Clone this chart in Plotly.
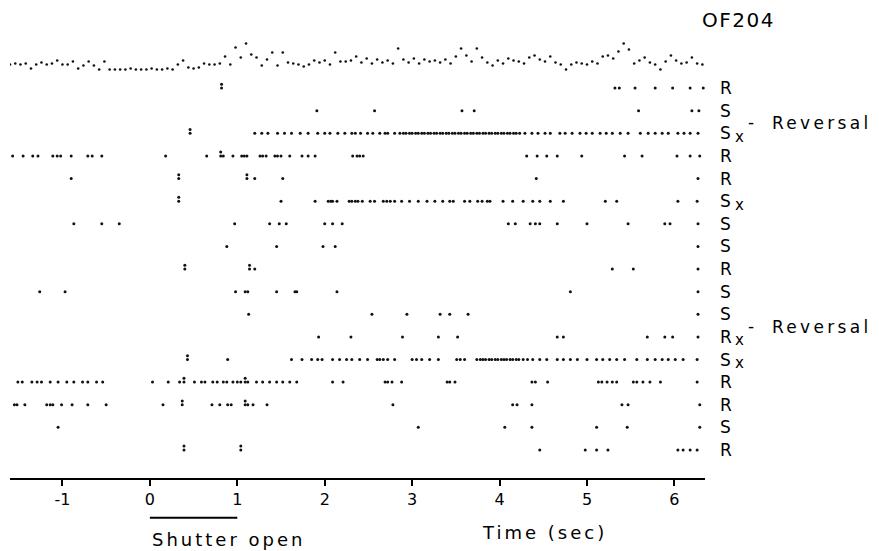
import plotly.graph_objects as go

# ---- data: spike times (s) per trial row, top to bottom ----
row_labels = ["R", "S", "Sx", "R", "R", "Sx", "S", "S", "R", "S", "S", "Rx", "Sx", "R", "R", "S", "R"]
reversal_rows = [2, 11]

spikes = [
    [0.82, 5.32, 5.37, 5.55, 5.78, 5.98, 6.18, 6.33],
    [1.91, 2.57, 3.57, 3.71, 5.59, 6.20, 6.28],
    [0.46, 1.20, 1.28, 1.35, 1.46, 1.54, 1.62, 1.72, 1.81, 1.92, 2.00, 2.06, 2.15, 2.23, 2.31, 2.35,
     2.41, 2.49, 2.55, 2.63, 2.69, 2.72, 2.80, 2.86, 2.90, 2.93, 2.97, 3.00, 3.04, 3.07, 3.11, 3.14,
     3.18, 3.21, 3.25, 3.28, 3.32, 3.35, 3.39, 3.42, 3.46, 3.49, 3.53, 3.56, 3.60, 3.63, 3.67, 3.70,
     3.74, 3.77, 3.81, 3.84, 3.88, 3.91, 3.95, 3.98, 4.02, 4.05, 4.09, 4.12, 4.16, 4.19, 4.23, 4.29,
     4.37, 4.44, 4.52, 4.58, 4.69, 4.75, 4.83, 4.92, 4.99, 5.06, 5.15, 5.22, 5.29, 5.38, 5.47, 5.61,
     5.70, 5.78, 5.86, 5.93, 6.04, 6.11, 6.18, 6.27],
    [-1.57, -1.45, -1.34, -1.28, -1.11, -1.06, -1.02, -0.90, -0.71, -0.66, -0.55, 0.18, 0.65, 0.81,
     0.84, 0.95, 1.05, 1.08, 1.11, 1.26, 1.29, 1.33, 1.43, 1.46, 1.50, 1.60, 1.74, 1.81, 1.89, 2.32,
     2.37, 2.40, 2.44, 4.31, 4.43, 4.54, 4.66, 4.94, 5.43, 5.63, 6.03, 6.18, 6.29],
    [-0.90, 0.33, 1.11, 1.20, 1.52, 4.42, 6.27],
    [0.33, 1.50, 1.89, 2.04, 2.07, 2.09, 2.14, 2.28, 2.31, 2.35, 2.38, 2.43, 2.52, 2.57, 2.67, 2.71,
     2.75, 2.80, 2.88, 2.97, 3.07, 3.17, 3.26, 3.35, 3.43, 3.47, 3.60, 3.66, 3.75, 3.80, 3.86, 3.89,
     4.04, 4.15, 4.27, 4.38, 4.46, 4.58, 4.73, 5.21, 5.34, 6.04, 6.26],
    [-0.87, -0.55, -0.35, 0.97, 1.37, 1.48, 1.56, 2.00, 2.09, 2.20, 4.10, 4.18, 4.35, 4.41, 4.46,
     4.66, 5.00, 5.47, 5.89, 5.95, 6.27],
    [0.88, 1.45, 1.98, 2.12, 6.27],
    [0.40, 1.14, 1.20, 5.29, 5.53, 6.27],
    [-1.26, -0.97, 0.98, 1.09, 1.12, 1.45, 1.66, 1.68, 2.14, 4.81, 6.27],
    [1.13, 2.54, 2.94, 3.32, 3.43, 3.64, 6.27],
    [1.93, 2.30, 2.89, 3.30, 3.52, 4.66, 4.73, 5.69, 5.89, 5.98, 6.27],
    [0.43, 0.89, 1.62, 1.74, 1.85, 1.92, 1.97, 2.09, 2.17, 2.25, 2.31, 2.40, 2.49, 2.60, 2.63, 2.67,
     2.72, 2.80, 3.00, 3.05, 3.11, 3.20, 3.30, 3.51, 3.55, 3.60, 3.74, 3.78, 3.81, 3.84, 3.88, 3.91,
     3.95, 3.98, 4.02, 4.05, 4.08, 4.12, 4.15, 4.19, 4.22, 4.27, 4.32, 4.38, 4.46, 4.54, 4.66, 4.73,
     4.81, 4.89, 5.00, 5.11, 5.18, 5.26, 5.34, 5.43, 5.57, 5.69, 5.78, 5.86, 5.93, 6.01, 6.10, 6.26],
    [-1.51, -1.46, -1.35, -1.29, -1.24, -1.14, -1.05, -0.95, -0.87, -0.77, -0.71, -0.61, -0.54, 0.03,
     0.21, 0.34, 0.39, 0.51, 0.59, 0.63, 0.72, 0.77, 0.84, 0.88, 0.95, 1.00, 1.04, 1.09, 1.12, 1.22,
     1.29, 1.37, 1.45, 1.52, 1.60, 1.68, 2.09, 2.21, 2.69, 2.72, 2.77, 2.88, 3.40, 3.43, 3.49, 4.37,
     4.41, 4.55, 5.13, 5.17, 5.23, 5.29, 5.34, 5.53, 5.57, 5.64, 5.72, 5.84, 6.26],
    [-1.55, -1.52, -1.43, -1.18, -1.14, -1.11, -1.01, -0.89, -0.71, -0.50, 0.15, 0.37, 0.71, 0.80,
     0.89, 0.93, 1.09, 1.12, 1.18, 1.34, 2.78, 4.15, 4.20, 4.37, 5.40, 5.47, 6.29],
    [-1.05, 3.07, 4.06, 4.37, 5.11, 5.46, 6.29],
    [0.39, 1.04, 4.46, 4.98, 5.11, 5.24, 6.04, 6.10, 6.18, 6.26],
]

# second spikes of closely spaced doublets (drawn stacked above the first): (row, time)
doublet_rows = [0, 2, 3, 4, 4, 5, 8, 8, 12, 13, 13, 14, 14, 16, 16]
doublet_times = [0.82, 0.46, 0.81, 0.33, 1.11, 0.33, 0.40, 1.14, 0.43, 0.39, 1.09, 0.37, 1.09, 0.39, 1.04]

# top analog trace, sampled every 0.06 s starting at -1.60 s (height above baseline, px-units)
trace_start = -1.60
trace_step = 0.06
trace_vals = [
    1, 2, 1, 2, -3, 1, 3, 1, 2, 5, 1, 1, 4, -3, 0, 4, 0, -4, 4, -4,
    -4, -4, -4, -3, -4, -4, -4, -3, -4, -4, -3, -4,
    1, 5, -2, -3, -2, 2, 1, 1, 2, 9, 1, 18, 8, 22, 11, 8, 0, 6, 13, 0, 13, 3, 2, 1, -1, 1, 5, 3,
    5, 1, 13, 4, 4, 5, 9, 3, 7, 2, 6, 3, 5, 2, 17, 6, 3, 7, 2, 6, 4, 5, 3, 6, 2, 9, 17, 10, 4, 17,
    8, 3, 0, 5, 2, 7, 5, 4, 2, 8, 10, 6, 4, 9, 3, 1, -4, 1, 3, 2, 1, 4, 2, 9, 10, 7, 14, 22, 16, 2,
    5, 8, 3, 1, -4, 4, 10, 5, 2, 3, 8, 2, 1,
]
trace_scale = 22.6  # trace units per row height

x_ticks = [-1, 0, 1, 2, 3, 4, 5, 6]

# ---- build ----
sx, sy = [], []
for i, row in enumerate(spikes):
    for t in row:
        sx.append(t)
        sy.append(-i)
for r, t in zip(doublet_rows, doublet_times):
    sx.append(t)
    sy.append(-r + 0.17)

tx = [trace_start + k * trace_step for k in range(len(trace_vals))]
ty = [1 + v / trace_scale for v in trace_vals]

fig = go.Figure()
fig.add_trace(go.Scatter(x=sx, y=sy, mode="markers",
                         marker=dict(size=3, color="#111111"), hoverinfo="skip",
                         showlegend=False))
fig.add_trace(go.Scatter(x=tx, y=ty, mode="markers",
                         marker=dict(size=2.6, color="#111111"), hoverinfo="skip",
                         showlegend=False))

font_family = "DejaVu Sans, Liberation Sans, sans-serif"


def spaced(text, px):
    return '<span style="letter-spacing:%spx">%s</span>' % (px, text)


ann = []
for i, lab in enumerate(row_labels):
    ann.append(dict(x=1.0187, y=-i, xref="paper", yref="y", text=lab[0], showarrow=False,
                    xanchor="left", yanchor="middle",
                    font=dict(size=17, color="black", family=font_family)))
    if len(lab) > 1:
        ann.append(dict(x=1.041, y=-i - 0.15, xref="paper", yref="y", text=lab[1], showarrow=False,
                        xanchor="left", yanchor="middle",
                        font=dict(size=15, color="black", family=font_family)))
for r in reversal_rows:
    ann.append(dict(x=1.0590, y=-r + 0.5, xref="paper", yref="y", text="-",
                    showarrow=False, xanchor="left", yanchor="middle",
                    font=dict(size=17, color="black", family=font_family)))
    ann.append(dict(x=1.0935, y=-r + 0.45, xref="paper", yref="y", text=spaced("Reversal", 3.3),
                    showarrow=False, xanchor="left", yanchor="middle",
                    font=dict(size=17, color="black", family=font_family)))

ann.append(dict(x=0.993, y=1.022, xref="paper", yref="paper", text=spaced("OF204", 1.5),
                showarrow=False, xanchor="left", yanchor="middle",
                font=dict(size=20, color="black", family=font_family)))
ann.append(dict(x=0.0, y=-0.138, xref="x", yref="paper", text=spaced("Shutter open", 3),
                showarrow=False, xanchor="left", yanchor="middle",
                font=dict(size=18, color="black", family=font_family)))
ann.append(dict(x=3.78, y=-0.121, xref="x", yref="paper", text=spaced("Time (sec)", 3),
                showarrow=False, xanchor="left", yanchor="middle",
                font=dict(size=18, color="black", family=font_family)))

# the page body has an 8px margin, so the figure is sized/offset to match the 879x551 window
fig.update_layout(
    width=871, height=543,
    margin=dict(l=2, r=174, t=22, b=73),
    paper_bgcolor="white", plot_bgcolor="white",
    annotations=ann,
    shapes=[dict(type="line", xref="x", yref="paper", x0=0, x1=1, y0=-0.089, y1=-0.089,
                 line=dict(color="black", width=2))],
    xaxis=dict(range=[-1.6, 6.35], showgrid=False, zeroline=False,
               showline=True, linecolor="black", linewidth=2,
               ticks="outside", ticklen=6, tickwidth=1.5, tickcolor="black",
               tickvals=x_ticks, ticktext=[str(v) for v in x_ticks],
               tickfont=dict(size=16, color="black", family=font_family)),
    yaxis=dict(range=[-17.24, 2.57], visible=False, showgrid=False, zeroline=False),
)

fig.write_html("out.html")
